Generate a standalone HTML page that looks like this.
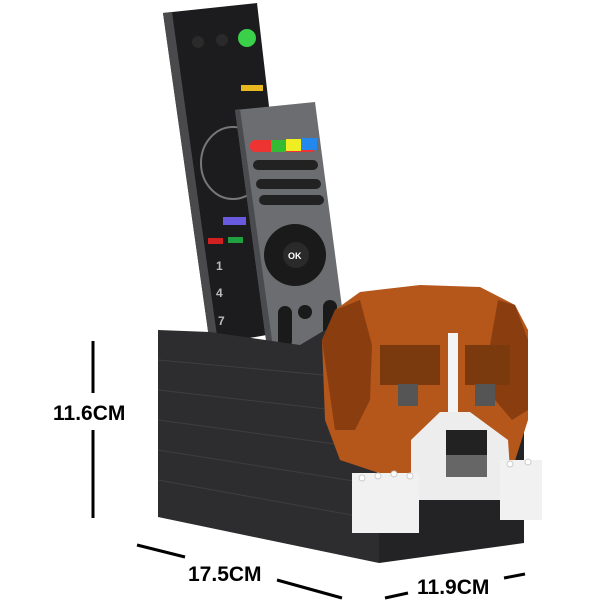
<!DOCTYPE html>
<html><head><style>body{margin:0;background:#fff}svg{display:block}text{font-family:"Liberation Sans",sans-serif;font-weight:bold}</style></head><body>
<svg width="600" height="600" viewBox="0 0 600 600">
<!-- left remote -->
<polygon points="163,13 257,3 295,330 210,345" fill="#1c1c1e"/>
<polygon points="163,13 172,12 218,343 210,345" fill="#4a4a4c"/>
<circle cx="247" cy="38" r="9" fill="#3ad04a"/>
<circle cx="198" cy="42" r="6" fill="#2a2a2a"/><circle cx="222" cy="40" r="6" fill="#2a2a2a"/>
<rect x="241" y="85" width="22" height="6" fill="#e8b820"/>
<ellipse cx="233" cy="163" rx="32" ry="36" fill="none" stroke="#777" stroke-width="2"/>
<rect x="223" y="217" width="23" height="8" fill="#6a5adf"/>
<rect x="208" y="238" width="15" height="6" fill="#d02020"/><rect x="228" y="237" width="15" height="6" fill="#20a040"/>
<text x="216" y="270" fill="#bbb" font-size="12">1</text><text x="216" y="297" fill="#bbb" font-size="12">4</text><text x="218" y="325" fill="#bbb" font-size="12">7</text>
<!-- right remote -->
<polygon points="235,110 315,102 345,330 348,352 285,362 268,355" fill="#6b6d70"/>
<polygon points="235,110 240,109 275,362 268,355" fill="#4a4b4e"/>
<rect x="250" y="140" width="66" height="12" rx="5" fill="#e33"/>
<rect x="271" y="140" width="15" height="12" fill="#3b3"/><rect x="286" y="139" width="15" height="12" fill="#ee2"/><rect x="301" y="138" width="16" height="12" fill="#28e"/>
<rect x="253" y="160" width="65" height="10" rx="5" fill="#222"/>
<rect x="256" y="179" width="65" height="10" rx="5" fill="#222"/>
<rect x="259" y="195" width="65" height="10" rx="5" fill="#222"/>
<circle cx="295" cy="255" r="31" fill="#1a1a1a"/>
<circle cx="296" cy="255" r="13" fill="#2a2a2a"/>
<text x="288" y="259" fill="#fff" font-size="9">OK</text>
<rect x="278" y="306" width="14" height="42" rx="7" fill="#1a1a1a"/>
<rect x="323" y="300" width="14" height="42" rx="7" fill="#1a1a1a"/>
<circle cx="305" cy="312" r="7" fill="#1a1a1a"/>
<!-- box -->
<polygon points="158,330 210,332 300,345 325,330 379,330 379,563 158,517" fill="#2d2d2f"/>
<polygon points="379,330 524,330 524,543 379,563" fill="#232325"/>
<g stroke="#3e3e40" stroke-width="1">
<line x1="158" y1="360" x2="379" y2="380"/><line x1="158" y1="390" x2="379" y2="415"/><line x1="158" y1="420" x2="379" y2="450"/><line x1="158" y1="450" x2="379" y2="485"/><line x1="158" y1="480" x2="379" y2="520"/>
</g>
<!-- dog -->
<polygon points="335,310 360,292 420,285 480,287 515,305 528,330 528,420 512,470 480,480 400,480 340,460 325,420 322,340" fill="#b5561a"/>
<polygon points="322,340 335,310 360,300 372,345 370,400 355,430 335,430" fill="#8a3e10"/>
<polygon points="528,340 515,305 498,300 490,345 495,400 512,420 528,410" fill="#8a3e10"/>
<rect x="380" y="345" width="60" height="40" fill="#7a3a0e"/><rect x="465" y="345" width="45" height="40" fill="#7a3a0e"/>
<rect x="448" y="333" width="10" height="80" fill="#f4f4f4"/>
<rect x="398" y="384" width="20" height="22" fill="#555"/><rect x="475" y="384" width="20" height="22" fill="#555"/>
<polygon points="411,440 440,412 470,412 508,440 512,500 411,500" fill="#ededed"/>
<rect x="446" y="430" width="41" height="25" fill="#222"/><rect x="446" y="455" width="41" height="22" fill="#666"/>
<rect x="352" y="473" width="67" height="60" fill="#f1f1f1"/>
<rect x="500" y="460" width="42" height="60" fill="#f1f1f1"/>
<g fill="#ffffff" stroke="#ccc"><circle cx="362" cy="478" r="3"/><circle cx="378" cy="476" r="3"/><circle cx="394" cy="474" r="3"/><circle cx="410" cy="476" r="3"/><circle cx="510" cy="464" r="3"/><circle cx="528" cy="462" r="3"/></g>
<!-- dimensions -->
<g stroke="#000" stroke-width="3">
<line x1="93" y1="341" x2="93" y2="393"/><line x1="93" y1="430" x2="93" y2="518"/>
<line x1="137" y1="545" x2="185" y2="557"/><line x1="277" y1="580" x2="342" y2="598"/>
<line x1="385" y1="598" x2="408" y2="593"/><line x1="504" y1="578" x2="525" y2="574"/>
</g>
<text x="53" y="420" font-size="21">11.6CM</text>
<text x="188" y="581" font-size="21">17.5CM</text>
<text x="417" y="594" font-size="21">11.9CM</text>
</svg>
</body></html>
